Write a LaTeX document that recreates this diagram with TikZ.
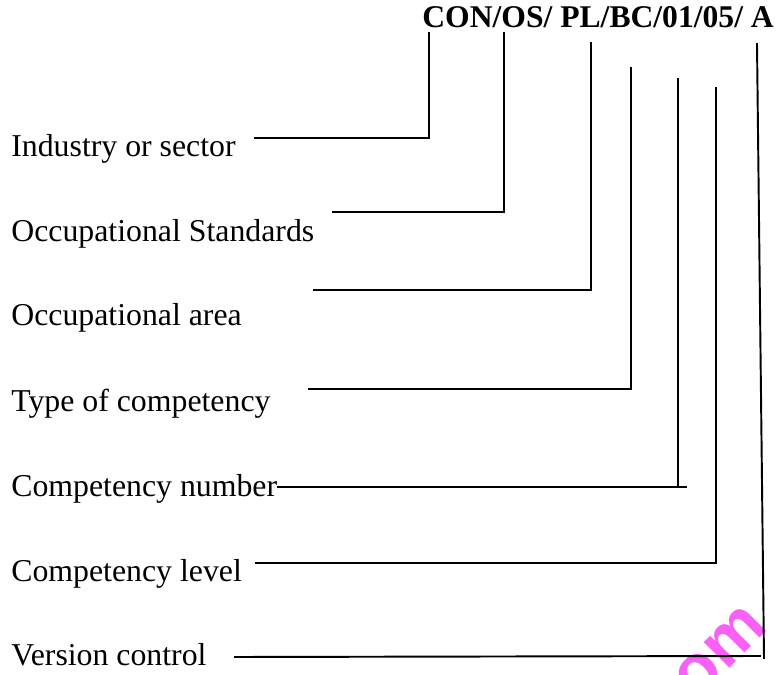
\documentclass[tikz,border=0pt]{standalone}
\usepackage{fontspec}
\setmainfont{Liberation Serif}
\newfontfamily\wmfont{Liberation Sans}
\definecolor{wmpink}{RGB}{248,96,248}
\usetikzlibrary{positioning,calc}

\begin{document}
\begin{tikzpicture}[x=0.02cm,y=-0.02cm,
label/.style={inner sep=0pt,anchor=base west,font=\fontsize{18.1}{21}\selectfont},
code/.style={inner sep=0pt,anchor=base west,font=\fontsize{18}{21}\selectfont\bfseries},
lead/.style={line width=1.1pt,line cap=rect}]
\useasboundingbox (0,0) rectangle (778,675);
% watermark fragment
\node[rotate=45,inner sep=0pt,text=wmpink,font=\wmfont\bfseries\fontsize{39}{42}\selectfont](wmark) at (720,652){om};
% code and labels
\node[code](codeline) at (422,28){CON/OS/ PL/BC/01/05/ A};
\node[label](industry) at (11,157){Industry or sector};
\node[label](ocstandards) at (11,242){Occupational Standards};
\node[label](ocarea) at (11,326){Occupational area};
\node[label](comptype) at (11,412){Type of competency};
\node[label](compnumber) at (11,497){Competency number};
\node[label](complevel) at (11,582){Competency level};
\node[label](version) at (11,665){Version control};
% line ends
\coordinate (industryL) at (255,138);
\coordinate (industryT) at (429,33);
\coordinate (ocstandardsL) at (333,212);
\coordinate (ocstandardsT) at (504,33);
\coordinate (ocareaL) at (314,290);
\coordinate (ocareaT) at (591,43);
\coordinate (comptypeL) at (309,389);
\coordinate (comptypeT) at (631,68);
\coordinate (compnumberL) at (278,487);
\coordinate (compnumberR) at (686,487);
\coordinate (compnumberT) at (678,79);
\coordinate (complevelL) at (256,563);
\coordinate (complevelT) at (716,88);
\coordinate (versionL) at (235,657);
\coordinate (versionR) at (760,656);
\coordinate (versionT) at (757,44);
\coordinate (versionB) at (764,658);
% leaders
\draw[lead](industryL)-|(industryT);
\draw[lead](ocstandardsL)-|(ocstandardsT);
\draw[lead](ocareaL)-|(ocareaT);
\draw[lead](comptypeL)-|(comptypeT);
\draw[lead](compnumberL)--(compnumberR);
\draw[lead](compnumberT)--(compnumberT|-compnumberL);
\draw[lead](complevelL)-|(complevelT);
\draw[lead](versionL)--(versionR);
\draw[lead](versionT)--(versionB);
\end{tikzpicture}
\end{document}
